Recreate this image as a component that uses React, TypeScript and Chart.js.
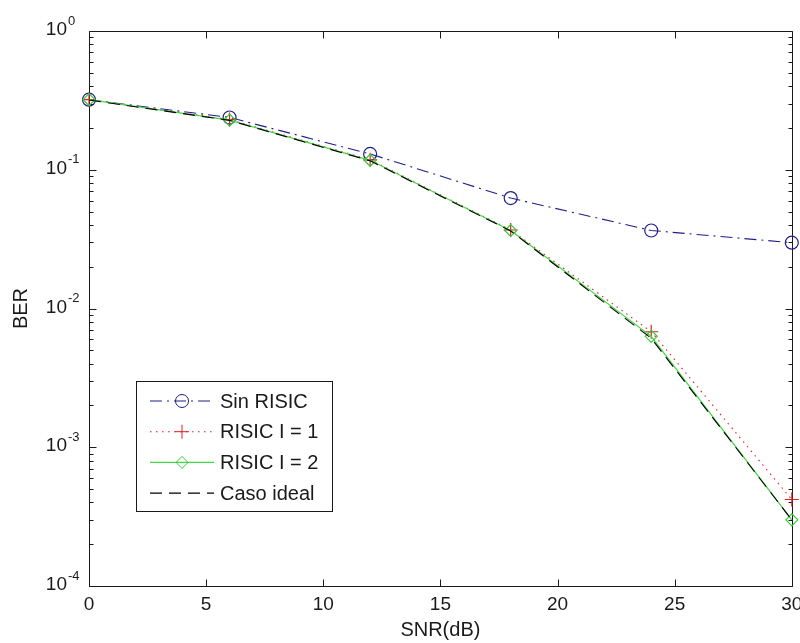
import React, { useEffect, useRef } from 'react';
import { Chart, registerables } from 'chart.js';

Chart.register(...registerables);

// ---- data ----
const snr = [0, 6, 12, 18, 24, 30];
const berSinRisic = [0.32, 0.238, 0.13, 0.0625, 0.0365, 0.0298];
const berRisic1 = [0.32, 0.23, 0.118, 0.0368, 0.0068, 0.00042];
const berRisic2 = [0.32, 0.228, 0.117, 0.0365, 0.0063, 0.0003];
const berIdeal = [0.318, 0.227, 0.116, 0.0362, 0.0061, 0.0003];

const seriesLabels = ['Sin RISIC', 'RISIC I = 1', 'RISIC I = 2', 'Caso ideal'];
const xTickValues = [0, 5, 10, 15, 20, 25, 30];
const yDecadeExponents = [-4, -3, -2, -1, 0];
const xTitle = 'SNR(dB)';
const yTitle = 'BER';

const FONT = '"Liberation Sans", Arial, Helvetica, sans-serif';
const TEXT = '#1a1a1a';

function drawMarker(ctx: CanvasRenderingContext2D, style: any, x: number, y: number, r: number, color: string) {
  if (!style || !r) return;
  ctx.save();
  ctx.strokeStyle = color;
  ctx.lineWidth = 1;
  ctx.setLineDash([]);
  ctx.beginPath();
  if (style === 'circle') {
    ctx.arc(x, y, r, 0, Math.PI * 2);
  } else if (style === 'cross') {
    ctx.moveTo(x - r, y); ctx.lineTo(x + r, y);
    ctx.moveTo(x, y - r); ctx.lineTo(x, y + r);
  } else if (style === 'rectRot') {
    ctx.moveTo(x, y - r); ctx.lineTo(x + r, y); ctx.lineTo(x, y + r); ctx.lineTo(x - r, y); ctx.closePath();
  }
  ctx.stroke();
  ctx.restore();
}

const matlabAxes = {
  id: 'matlabAxes',
  beforeDatasetsDraw(chart: any) {
    const { ctx, chartArea: a, scales } = chart;
    const xs = scales.x, ys = scales.y;
    const L = Math.round(a.left) + 0.5, R = Math.round(a.right) + 0.5;
    const T = Math.round(a.top) + 0.5, B = Math.round(a.bottom) + 0.5;
    ctx.save();
    ctx.strokeStyle = '#1a1a1a';
    ctx.lineWidth = 1;
    ctx.beginPath();
    ctx.rect(L, T, R - L, B - T);
    for (const v of xTickValues) {
      const px = Math.round(xs.getPixelForValue(v)) + 0.5;
      ctx.moveTo(px, B); ctx.lineTo(px, B - 7);
      ctx.moveTo(px, T); ctx.lineTo(px, T + 7);
    }
    for (const d of yDecadeExponents) {
      for (let m = 1; m <= 9; m++) {
        if (d === 0 && m > 1) break;
        const v = m * Math.pow(10, d);
        const py = Math.round(ys.getPixelForValue(v)) + 0.5;
        const len = m === 1 ? 7 : 4;
        ctx.moveTo(L, py); ctx.lineTo(L + len, py);
        ctx.moveTo(R, py); ctx.lineTo(R - len, py);
      }
    }
    ctx.stroke();
    ctx.restore();
  },
  afterDraw(chart: any) {
    const { ctx, chartArea: a, scales } = chart;
    const ys = scales.y;
    ctx.save();
    ctx.fillStyle = TEXT;
    for (const d of yDecadeExponents) {
      const py = ys.getPixelForValue(Math.pow(10, d));
      ctx.font = `19px ${FONT}`;
      ctx.textAlign = 'right';
      ctx.textBaseline = 'middle';
      ctx.fillText('10', a.left - 22, py - 1);
      ctx.font = `13px ${FONT}`;
      ctx.textAlign = 'left';
      ctx.fillText(String(d), a.left - 21, py - 10);
    }
    // legend
    const bx = 136, by = 381, bw = 196, bh = 130;
    ctx.fillStyle = '#ffffff';
    ctx.fillRect(bx, by, bw, bh);
    ctx.strokeStyle = '#1a1a1a';
    ctx.lineWidth = 1;
    ctx.strokeRect(bx + 0.5, by + 0.5, bw, bh);
    chart.data.datasets.forEach((ds: any, i: number) => {
      const ry = by + 20 + i * 30.7;
      ctx.save();
      ctx.strokeStyle = ds.borderColor;
      ctx.lineWidth = ds.borderWidth;
      ctx.setLineDash(ds.borderDash || []);
      ctx.beginPath();
      ctx.moveTo(150, ry);
      ctx.lineTo(214, ry);
      ctx.stroke();
      ctx.restore();
      drawMarker(ctx, ds.pointStyle, 182, ry, ds.pointRadius, ds.pointBorderColor);
      ctx.fillStyle = TEXT;
      ctx.font = `20px ${FONT}`;
      ctx.textAlign = 'left';
      ctx.textBaseline = 'middle';
      ctx.fillText(ds.label, 220, ry + 1);
    });
    ctx.restore();
  },
};

export default function App() {
  const ref = useRef<HTMLCanvasElement | null>(null);

  useEffect(() => {
    if (!ref.current) return;
    const mk = (ys: number[]) => snr.map((x, i) => ({ x, y: ys[i] }));
    const chart = new Chart(ref.current, {
      type: 'line',
      data: {
        datasets: [
          {
            label: seriesLabels[0],
            data: mk(berSinRisic),
            borderColor: '#1e1e8c',
            borderWidth: 1.1,
            borderDash: [12, 5, 2, 5],
            pointStyle: 'circle',
            pointRadius: 6.5,
            pointBorderColor: '#1e1e8c',
            pointBackgroundColor: 'rgba(0,0,0,0)',
            pointBorderWidth: 1.2,
            fill: false,
            tension: 0,
            clip: 12,
            order: 3,
          },
          {
            label: seriesLabels[1],
            data: mk(berRisic1),
            borderColor: '#dd2222',
            borderWidth: 1.1,
            borderDash: [1.5, 4.5],
            pointStyle: 'cross',
            pointRadius: 7,
            pointBorderColor: '#dd2222',
            pointBackgroundColor: 'rgba(0,0,0,0)',
            pointBorderWidth: 1.2,
            fill: false,
            tension: 0,
            clip: 12,
            order: 2,
          },
          {
            label: seriesLabels[2],
            data: mk(berRisic2),
            borderColor: '#44d844',
            borderWidth: 1.3,
            pointStyle: 'rectRot',
            pointRadius: 6,
            pointBorderColor: '#3cc83c',
            pointBackgroundColor: 'rgba(0,0,0,0)',
            pointBorderWidth: 1.2,
            fill: false,
            tension: 0,
            clip: 12,
            order: 1,
          },
          {
            label: seriesLabels[3],
            data: mk(berIdeal),
            borderColor: '#000000',
            borderWidth: 1.1,
            borderDash: [12, 7],
            pointStyle: false as any,
            pointRadius: 0,
            fill: false,
            tension: 0,
            clip: 12,
            order: 0,
          },
        ],
      },
      options: {
        responsive: false,
        animation: false,
        events: [],
        layout: { padding: { left: 0, top: 31, right: 7, bottom: 0 } },
        plugins: { legend: { display: false }, tooltip: { enabled: false } },
        scales: {
          x: {
            type: 'linear',
            min: 0,
            max: 30,
            grid: { display: false, drawTicks: false },
            border: { display: false },
            ticks: {
              stepSize: 5,
              padding: 7,
              color: TEXT,
              font: { family: FONT, size: 19 },
              maxRotation: 0,
              autoSkip: false,
            },
            title: {
              display: true,
              text: xTitle,
              color: TEXT,
              font: { family: FONT, size: 20 },
              padding: { top: 0, bottom: 1 },
            },
            afterFit(scale: any) {
              scale.height = 57;
              scale.paddingLeft = 0;
              scale.paddingRight = 0;
            },
          },
          y: {
            type: 'logarithmic',
            min: 1e-4,
            max: 1,
            grid: { display: false, drawTicks: false },
            border: { display: false },
            ticks: { display: false },
            title: {
              display: true,
              text: yTitle,
              color: TEXT,
              font: { family: FONT, size: 20 },
              padding: { top: 9, bottom: 0 },
            },
            afterFit(scale: any) {
              scale.width = 89;
              scale.paddingTop = 0;
              scale.paddingBottom = 0;
            },
          },
        },
      },
      plugins: [matlabAxes],
    });
    return () => chart.destroy();
  }, []);

  return (
    <div style={{ position: 'absolute', left: 0, top: 0, width: 800, height: 643, background: '#fff' }}>
      <canvas ref={ref} width={800} height={643} style={{ display: 'block' }} />
    </div>
  );
}
